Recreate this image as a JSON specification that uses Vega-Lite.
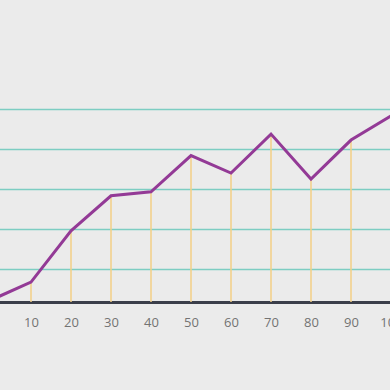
{
  "$schema": "https://vega.github.io/schema/vega-lite/v6.json",
  "width": 400,
  "height": 302,
  "autosize": {"type": "none"},
  "padding": {"left": -9, "top": 0, "right": 0, "bottom": 88},
  "background": "#ebebeb",
  "config": {"view": {"stroke": null}},
  "data": {
    "values": [
      {"x": 0, "y": 2.1},
      {"x": 10, "y": 6.6},
      {"x": 20, "y": 19.5},
      {"x": 30, "y": 28.3},
      {"x": 40, "y": 29.3},
      {"x": 50, "y": 38.4},
      {"x": 60, "y": 34.0},
      {"x": 70, "y": 43.8},
      {"x": 80, "y": 32.5},
      {"x": 90, "y": 42.3},
      {"x": 100, "y": 48.4}
    ]
  },
  "layer": [
    {
      "mark": {"type": "rule", "color": "#f3cf86", "strokeWidth": 1.5},
      "encoding": {
        "x": {
          "field": "x", "type": "quantitative",
          "scale": {"domain": [0, 100], "nice": false},
          "axis": {
            "values": [10, 20, 30, 40, 50, 60, 70, 80, 90, 100],
            "title": null, "grid": false, "ticks": false,
            "domainColor": "#3b3e4a", "domainWidth": 3,
            "labelFont": "Open Sans", "labelFontSize": 13, "labelColor": "#737373",
            "labelPadding": 14, "labelFlush": false, "labelOverlap": false
          }
        },
        "y": {
          "field": "y", "type": "quantitative",
          "scale": {"domain": [1.6, 77.5], "nice": false, "zero": false},
          "axis": {
            "values": [10, 20, 30, 40, 50],
            "title": null, "labels": false, "ticks": false, "domain": false,
            "grid": true, "gridColor": "#7dcdc2", "gridWidth": 1.5, "gridOpacity": 1
          }
        },
        "y2": {"datum": 1.6}
      }
    },
    {
      "mark": {"type": "line", "color": "#933a96", "strokeWidth": 3, "strokeJoin": "miter"},
      "encoding": {
        "x": {"field": "x", "type": "quantitative"},
        "y": {"field": "y", "type": "quantitative"}
      }
    }
  ]
}
